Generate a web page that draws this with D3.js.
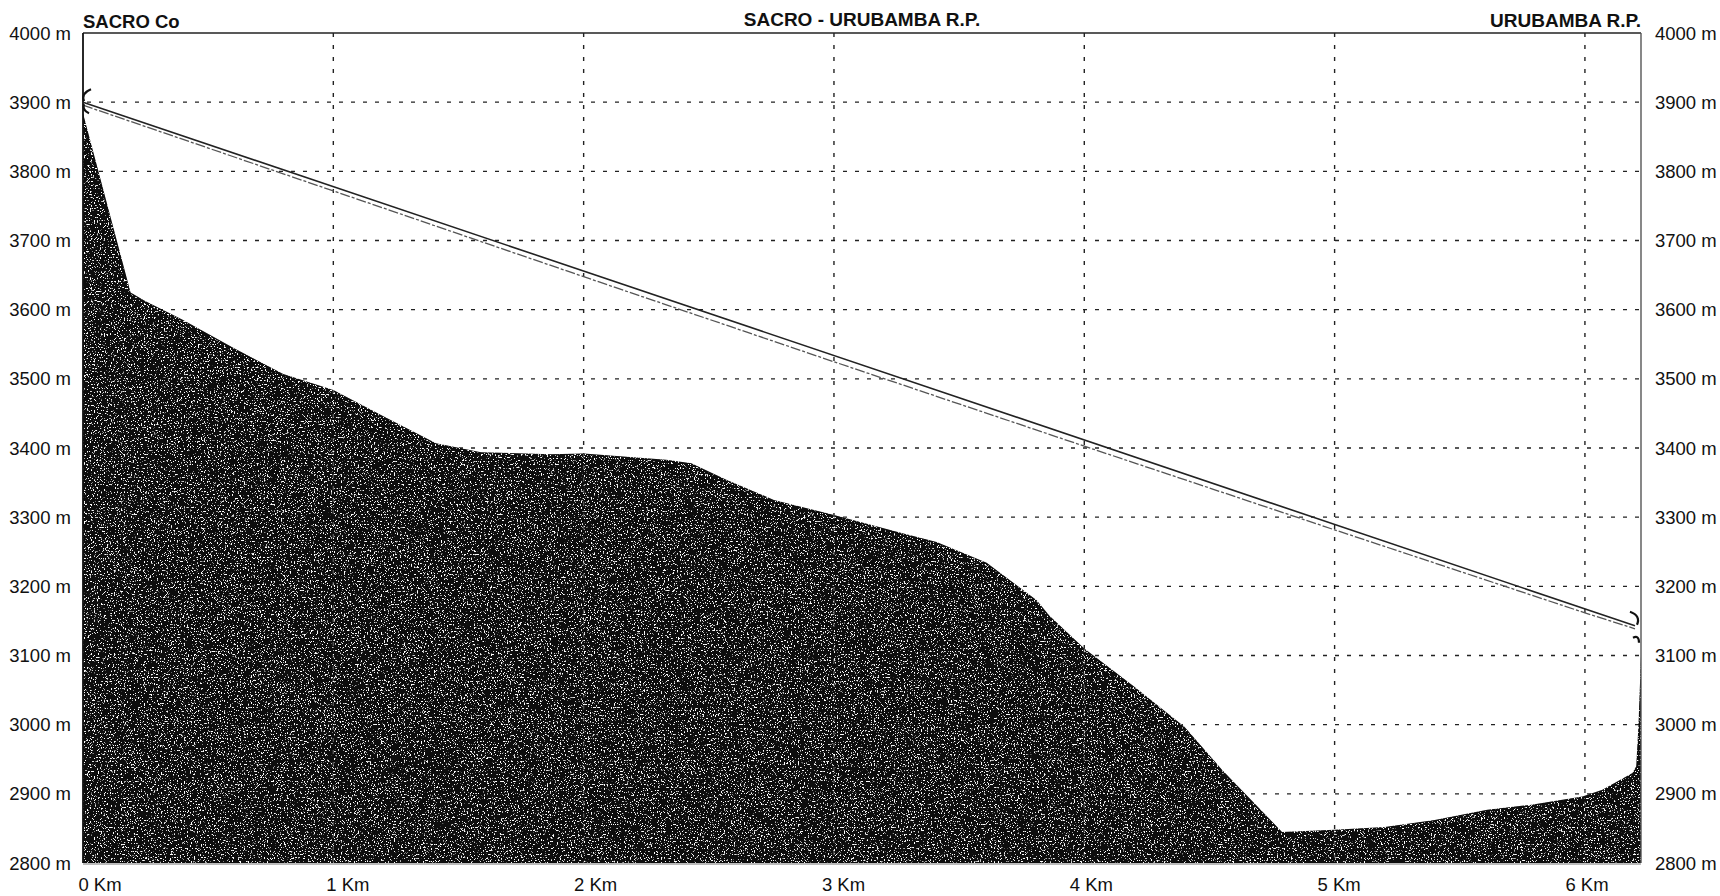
<!DOCTYPE html>
<html>
<head>
<meta charset="utf-8">
<title>SACRO - URUBAMBA R.P.</title>
<script src="https://cdn.jsdelivr.net/npm/d3@7/dist/d3.min.js"></script>
<style>
  html, body { margin: 0; padding: 0; background: #fff; }
  svg { display: block; font-family: "Liberation Sans", Arial, sans-serif; }
</style>
</head>
<body>
<svg id="chart" width="1720" height="896"></svg>
<script>
// Ground profile along the line: [distance km, elevation m]
const profileKm = [0, 0.19, 0.25, 0.40, 0.60, 0.80, 1.00, 1.20, 1.41, 1.59, 1.87, 2.00, 2.33, 2.43, 2.57, 2.76, 3.00, 3.27, 3.41, 3.61, 3.81, 3.86, 4.00, 4.20, 4.40, 4.55, 4.79, 5.00, 5.20, 5.40, 5.61, 5.78, 5.99, 6.07, 6.19, 6.205, 6.214, 6.224];
const profileElev = [3884, 3625, 3612, 3585, 3545, 3507, 3484, 3446, 3407, 3394, 3391, 3392, 3383, 3378, 3354, 3325, 3303, 3277, 3264, 3234, 3180, 3158, 3110, 3055, 2997, 2935, 2845, 2848, 2852, 2862, 2877, 2884, 2896, 2906, 2930, 2940, 3000, 3100];

// Cable: upper chord and the slightly sagging lower line
const cableKm = [0, 6.20];
const cableElev = [3900, 3143];
const sagKm = [0, 1, 2, 3, 4, 5, 6, 6.20];
const sagElev = [3900, 3776, 3652, 3529, 3407, 3286, 3166, 3143];

// Axis ticks and labels
const kmTicks = [0, 1, 2, 3, 4, 5, 6];
const kmLabels = ["0 Km", "1 Km", "2 Km", "3 Km", "4 Km", "5 Km", "6 Km"];
const elevTicks = [2800, 2900, 3000, 3100, 3200, 3300, 3400, 3500, 3600, 3700, 3800, 3900, 4000];
const titleLeft = "SACRO Co";
const titleCenter = "SACRO - URUBAMBA R.P.";
const titleRight = "URUBAMBA R.P.";

const svg = d3.select("#chart");
const plotL = 83, plotR = 1641, plotT = 33, plotB = 863;

const x = d3.scaleLinear().domain([0, 6.224]).range([plotL, plotR]);
const y = d3.scaleLinear().domain([2800, 4000]).range([plotB, plotT]);
// distance labels sit a little right of their gridlines, more so near the origin
const xLabel = d3.scaleLinear().domain([0, 6]).range([100, 1587]);

svg.append("rect").attr("width", 1720).attr("height", 896).attr("fill", "#fff");

// grain for the ground fill
const defs = svg.append("defs");
const f = defs.append("filter").attr("id", "grain")
  .attr("x", 0).attr("y", 0).attr("width", 1).attr("height", 1);
f.append("feTurbulence").attr("type", "fractalNoise")
  .attr("baseFrequency", "0.7").attr("numOctaves", 2).attr("seed", 7).attr("result", "n");
f.append("feColorMatrix").attr("in", "n").attr("type", "matrix")
  .attr("values", "0 0 0 0 1  0 0 0 0 1  0 0 0 0 1  12 0 0 0 -7.3").attr("result", "specks");
f.append("feComposite").attr("in", "specks").attr("in2", "SourceGraphic")
  .attr("operator", "in").attr("result", "s2");
const fm = f.append("feMerge");
fm.append("feMergeNode").attr("in", "SourceGraphic");
fm.append("feMergeNode").attr("in", "s2");

// grid
const grid = svg.append("g").attr("stroke", "#222").attr("stroke-width", 1.4)
  .attr("stroke-dasharray", "4,8").attr("fill", "none");
grid.selectAll("line.h").data(elevTicks.filter(d => d > 2800 && d < 4000)).join("line")
  .attr("class", "h")
  .attr("x1", plotL + 4).attr("x2", plotR)
  .attr("y1", d => y(d)).attr("y2", d => y(d));
grid.selectAll("line.v").data(kmTicks.filter(d => d > 0)).join("line")
  .attr("class", "v")
  .attr("x1", d => x(d)).attr("x2", d => x(d))
  .attr("y1", plotT).attr("y2", plotB);

// ground
const profile = profileKm.map((k, i) => [k, profileElev[i]]);
const area = d3.area().x(d => x(d[0])).y0(y(2800)).y1(d => y(d[1]));
svg.append("path").datum(profile)
  .attr("d", area)
  .attr("fill", "#080808")
  .attr("filter", "url(#grain)");

// faint gridlines showing through the ground
svg.append("g").attr("stroke", "#fff").attr("stroke-opacity", 0.3).attr("stroke-width", 1.4)
  .attr("stroke-dasharray", "4,8")
  .selectAll("line").data(kmTicks.filter(d => d > 0)).join("line")
  .attr("x1", d => x(d)).attr("x2", d => x(d))
  .attr("y1", d => y(profileElev[d3.bisectLeft(profileKm, d)])).attr("y2", plotB);

// base line
svg.append("line").attr("x1", plotL).attr("x2", plotR).attr("y1", plotB + 1).attr("y2", plotB + 1)
  .attr("stroke", "#bbb").attr("stroke-width", 2);

// frame
svg.append("line").attr("x1", plotL).attr("x2", plotR).attr("y1", plotT).attr("y2", plotT)
  .attr("stroke", "#222").attr("stroke-width", 1.6);
svg.append("line").attr("x1", plotL).attr("x2", plotL).attr("y1", plotT).attr("y2", plotB)
  .attr("stroke", "#111").attr("stroke-width", 1.8);
svg.append("line").attr("x1", plotR).attr("x2", plotR).attr("y1", plotT).attr("y2", plotB)
  .attr("stroke", "#555").attr("stroke-width", 1.4);

// cable
const line = d3.line().x(d => x(d[0])).y(d => y(d[1]));
svg.append("path").datum(sagKm.map((k, i) => [k, sagElev[i]]))
  .attr("d", line).attr("fill", "none")
  .attr("stroke", "#555").attr("stroke-width", 1.3).attr("stroke-dasharray", "10,2,3,2")
  .attr("transform", "translate(0,3)");
svg.append("path").datum(cableKm.map((k, i) => [k, cableElev[i]]))
  .attr("d", line).attr("fill", "none")
  .attr("stroke", "#222").attr("stroke-width", 1.6);

// end brackets at the two stations
const sx = x(cableKm[0]), sy = y(cableElev[0]);
const ex = x(cableKm[1]), ey = y(cableElev[1]);
const br = svg.append("g").attr("fill", "none").attr("stroke", "#111").attr("stroke-width", 2.2);
br.append("path").attr("d", `M${sx + 8},${sy - 13} Q${sx - 2},${sy - 9} ${sx + 1},${sy - 1}`);
br.append("path").attr("d", `M${sx + 1},${sy + 2} Q${sx - 1},${sy + 8} ${sx + 6},${sy + 11}`);
br.append("path").attr("d", `M${ex - 5},${ey - 14} Q${ex + 6},${ey - 10} ${ex + 2},${ey - 1}`);
br.append("path").attr("d", `M${ex - 2},${ey + 12} Q${ex + 4},${ey + 9} ${ex + 4},${ey + 17}`);

// elevation labels, both sides
const fmt = d => d + " m";
svg.append("g").selectAll("text").data(elevTicks).join("text")
  .attr("x", plotL - 12).attr("y", d => y(d))
  .attr("text-anchor", "end").attr("dominant-baseline", "central")
  .attr("font-size", 18.5).attr("fill", "#111").text(fmt);
svg.append("g").selectAll("text").data(elevTicks).join("text")
  .attr("x", plotR + 14).attr("y", d => y(d))
  .attr("text-anchor", "start").attr("dominant-baseline", "central")
  .attr("font-size", 18.5).attr("fill", "#111").text(fmt);

// distance labels
svg.append("g").selectAll("text").data(kmTicks).join("text")
  .attr("x", d => xLabel(d)).attr("y", 891)
  .attr("text-anchor", "middle")
  .attr("font-size", 18.5).attr("fill", "#111").text((d, i) => kmLabels[i]);

// titles
svg.append("text").attr("x", plotL).attr("y", 28).attr("font-size", 18.5).attr("font-weight", "bold")
  .attr("fill", "#111").text(titleLeft);
svg.append("text").attr("x", (plotL + plotR) / 2).attr("y", 26).attr("text-anchor", "middle")
  .attr("font-size", 19).attr("font-weight", "bold").attr("fill", "#111").text(titleCenter);
svg.append("text").attr("x", plotR).attr("y", 27).attr("text-anchor", "end")
  .attr("font-size", 19).attr("font-weight", "bold").attr("fill", "#111").text(titleRight);
</script>
</body>
</html>
